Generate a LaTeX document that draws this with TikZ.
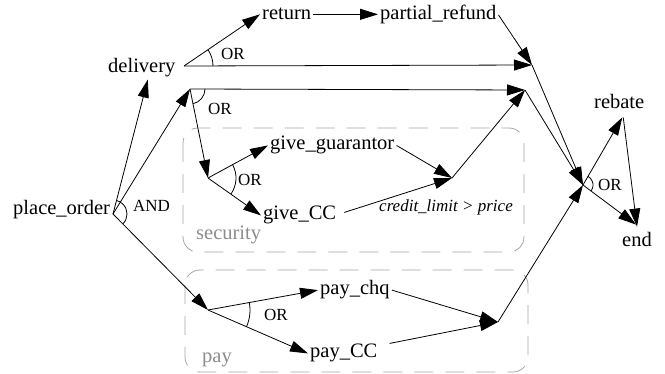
\documentclass[tikz,border=0pt]{standalone}
\usepackage{fontspec}
\setmainfont{Liberation Serif}
\usetikzlibrary{arrows.meta}
\definecolor{boxgray}{RGB}{165,165,165}
\definecolor{labgray}{RGB}{140,140,140}
\begin{document}
\begin{tikzpicture}[x=1pt,y=1pt,
  lab/.style={font=\fontsize{20.5}{24}\selectfont, anchor=base west, inner sep=2pt},
  small/.style={font=\fontsize{17}{20}\selectfont, anchor=base west, inner sep=0pt},
  grp/.style={draw=boxgray, dash pattern=on 19pt off 12pt, rounded corners=15pt, line width=0.8pt},
  grplab/.style={lab, text=labgray},
  ln/.style={line width=0.8pt},
  arr/.style={ln, -{Triangle[length=18pt,width=11pt]}}
]
\useasboundingbox (0,0) rectangle (665,-374);

% groups
\draw[grp] (183,-128) rectangle (524,-252);
\draw[grp] (185,-270) rectangle (528,-372);

% labels
\node[lab] (po) at (11,-215) {place\_order};
\node[lab] (del) at (106,-73) {delivery};
\node[lab] (ret) at (260,-20) {return};
\node[lab] (pr) at (378,-20) {partial\_refund};
\node[lab] (reb) at (592,-109) {rebate};
\node[lab] (fin) at (620,-247) {end};
\node[lab] (gg) at (268,-150) {give\_guarantor};
\node[lab] (gcc) at (261,-220) {give\_CC};
\node[lab] (pchq) at (318,-295) {pay\_chq};
\node[lab] (pcc) at (308,-358) {pay\_CC};
\node[grplab] (seclab) at (194,-240) {security};
\node[grplab] (paylab) at (200,-363) {pay};
\node[small, font=\fontsize{17}{20}\selectfont\itshape] (cond) at (379,-212) {credit\_limit > price};

% junction points
\coordinate (A) at (113,-214);
\coordinate (D) at (184,-66);
\coordinate (J) at (190,-89);
\coordinate (S) at (208,-178);
\coordinate (Q) at (208,-310);
\coordinate (C) at (452,-178);
\coordinate (R) at (498,-322);
\coordinate (P1) at (532,-65);
\coordinate (P2) at (525,-90);
\coordinate (P3) at (583,-185);

% connectors
\draw[arr] (A) -- ([shift={(6,0)}]del.south);
\draw[arr] (A) -- (J);
\draw[arr] (A) -- (Q);
\draw[arr] (D) -- (ret.west);
\draw[arr] (D) -- (P1);
\draw[arr] (ret.east) -- (ret.east -| pr.west);
\draw[arr] (pr.east) -- (P1);
\draw[arr] (P1) -- (P3);
\draw[arr] (J) -- (P2);
\draw[arr] (J) -- (S);
\draw[arr] (S) -- (gg.west);
\draw[arr] (S) -- (gcc.west);
\draw[arr] (gg.east) -- (C);
\draw[arr] ([shift={(6,3)}]gcc.east) -- (C);
\draw[arr] (C) -- (P2);
\draw[arr] (P2) -- (P3);
\draw[arr] (Q) -- (pchq.west);
\draw[arr] (Q) -- (pcc.west);
\draw[arr] (pchq.east) -- (R);
\draw[arr] ([shift={(10,10)}]pcc.east) -- (R);
\draw[arr] (R) -- (P3);
\draw[arr] (P3) -- ([shift={(3,-6)}]reb.south);
\draw[arr] (P3) -- ([shift={(-1,6)}]fin.north);
\draw[arr] ([shift={(4,-6)}]reb.south) -- ([shift={(0,4)}]fin.north);

% join arcs
\draw[ln] ([shift={(-45:14)}]A) arc[start angle=-45, end angle=76, radius=14];
\draw[ln] ([shift={(0:29)}]D) arc[start angle=0, end angle=34.4, radius=29];
\draw[ln] ([shift={(-79:15)}]J) arc[start angle=-79, end angle=0, radius=15];
\draw[ln] ([shift={(-35:28)}]S) arc[start angle=-35, end angle=28.6, radius=28];
\draw[ln] ([shift={(-23.4:42)}]Q) arc[start angle=-23.4, end angle=10.2, radius=42];
\draw[ln] ([shift={(-37.6:10)}]P3) arc[start angle=-37.6, end angle=59.8, radius=10];

% join labels
\node[small] (and) at (133,-212) {AND};
\node[small] (or1) at (221,-60) {OR};
\node[small] (or2) at (208,-115) {OR};
\node[small] (or3) at (238,-186) {OR};
\node[small] (or4) at (264,-321) {OR};
\node[small] (or5) at (598,-191) {OR};
\end{tikzpicture}
\end{document}
